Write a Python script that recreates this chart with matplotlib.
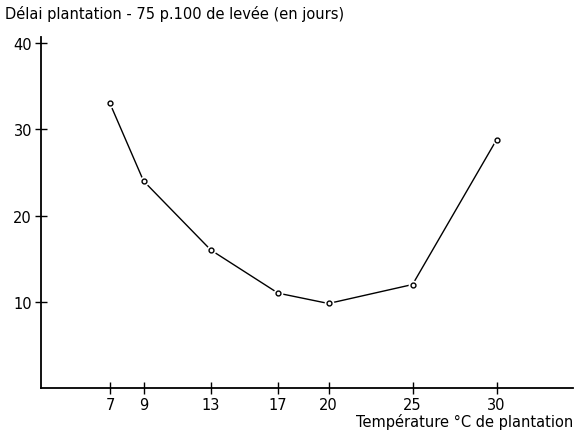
import matplotlib.pyplot as plt

# ====================== DATA ======================
temperature = [7, 9, 13, 17, 20, 25, 30]
delai = [33, 24, 16, 11, 9.8, 12, 28.8]

x_ticks = [7, 9, 13, 17, 20, 25, 30]
y_ticks = [10, 20, 30, 40]

# ====================== FIGURE ======================
fig = plt.figure(figsize=(5.76, 4.35), dpi=100)
ax = fig.add_axes([0.0712, 0.1057, 0.9238, 0.807])

# line first, then open circles on top (white fill hides the joins)
ax.plot(temperature, delai, color='black', linewidth=1.0, zorder=2)
ax.plot(temperature, delai, linestyle='none', marker='o', markersize=4.5,
        markerfacecolor='white', markeredgecolor='white', markeredgewidth=2.5,
        zorder=3)
ax.plot(temperature, delai, linestyle='none', marker='o', markersize=3.5,
        markerfacecolor='white', markeredgecolor='black', markeredgewidth=1.0,
        zorder=4)

ax.set_xlim(2.9, 34.55)
ax.set_ylim(0, 40.7)

ax.set_xticks(x_ticks)
ax.set_yticks(y_ticks)

for side in ['top', 'right']:
    ax.spines[side].set_visible(False)
for side in ['left', 'bottom']:
    ax.spines[side].set_linewidth(1.3)

ax.tick_params(axis='both', direction='inout', length=9, width=1.0,
               labelsize=10.5, pad=2)

# title in top-left corner, x label at bottom right
fig.text(0.009, 0.967, "Délai plantation - 75 p.100 de levée (en jours)",
         fontsize=10.5, ha='left', va='center')
fig.text(0.995, 0.012, "Température °C de plantation",
         fontsize=10.5, ha='right', va='bottom')

fig.savefig('out.png', dpi=100)
